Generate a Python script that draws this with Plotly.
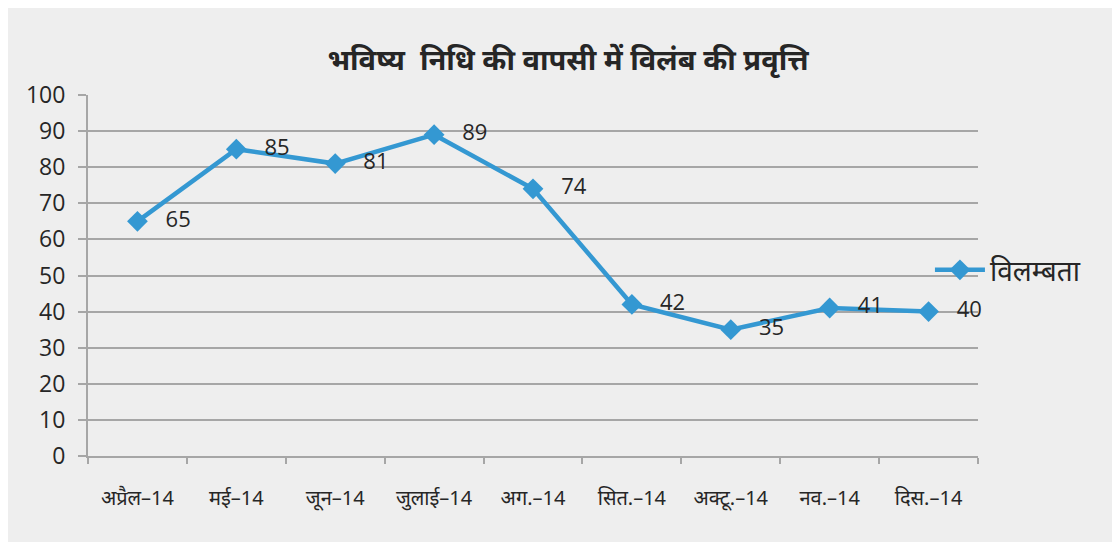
import plotly.graph_objects as go

categories = ["अप्रैल–14", "मई–14", "जून–14", "जुलाई–14", "अग.–14", "सित.–14", "अक्टू.–14", "नव.–14", "दिस.–14"]
values = [65, 85, 81, 89, 74, 42, 35, 41, 40]
series_name = "विलम्बता"
title_text = "भविष्य  निधि की वापसी में विलंब की प्रवृत्ति"

blue = "#3498d2"
grid = "#a6a6a6"

fig = go.Figure()
fig.add_trace(go.Scatter(
    x=categories, y=values, name=series_name,
    mode="lines+markers+text",
    line=dict(color=blue, width=4.5),
    marker=dict(symbol="diamond", size=16, color=blue),
    text=["   " + str(v) for v in values],
    textposition="middle right",
    textfont=dict(size=22, color="#262626", family="Open Sans, Noto Sans, sans-serif"),
    cliponaxis=False,
))

fig.update_layout(
    width=1120, height=542,
    paper_bgcolor="#eeeeee", plot_bgcolor="#eeeeee",
    margin=dict(l=80, r=150, t=87, b=94, autoexpand=False),
    title=dict(text="<b>" + title_text + "</b>", x=0.5, xanchor="center", y=0.905, yanchor="middle",
               font=dict(size=29, color="#262626", family="Noto Sans, sans-serif")),
    showlegend=True,
    legend=dict(x=0.946, xanchor="left", y=0.515, yanchor="middle",
                font=dict(size=28, color="#262626", family="Noto Sans, sans-serif"),
                bgcolor="rgba(0,0,0,0)", itemwidth=50),
    xaxis=dict(type="category", tickson="boundaries", showgrid=False,
               showline=True, linecolor=grid, linewidth=2,
               ticks="outside", ticklen=6, tickcolor=grid, tickwidth=2,
               ticklabelstandoff=23, automargin=False,
               tickfont=dict(size=20, color="#262626", family="Liberation Sans Narrow, Noto Sans, sans-serif"),
               range=[-0.5, 8.5]),
    yaxis=dict(range=[0, 100], dtick=10, showgrid=True, gridcolor=grid, gridwidth=2,
               showline=True, linecolor=grid, linewidth=2,
               ticks="outside", ticklen=8, tickcolor=grid, tickwidth=2,
               zeroline=False, automargin=False, ticklabelstandoff=8,
               tickfont=dict(size=23, color="#262626", family="Open Sans, Noto Sans, sans-serif")),
)

fig.write_html("out.html")
